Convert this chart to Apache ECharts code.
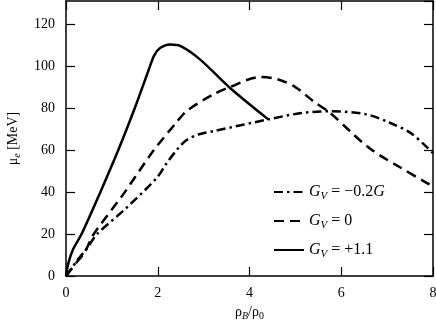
<!DOCTYPE html>
<html>
<head>
<meta charset="utf-8">
<script src="https://cdn.jsdelivr.net/npm/echarts@6/dist/echarts.min.js"></script>
<style>
  html, body { margin: 0; padding: 0; background: #fff; }
  #chart { width: 436px; height: 328px; }
</style>
</head>
<body>
<div id="chart"></div>
<script>
// rho_B / rho_0 vs mu_e [MeV]
const gvPlus = [
  [0, 0], [0.05, 6], [0.15, 12.5], [0.34, 20], [0.73, 39], [1.14, 60], [1.5, 80],
  [1.8, 98], [1.92, 105], [2.05, 108.6], [2.27, 110.3], [2.5, 109.5],
  [2.92, 103.2], [3.57, 89.7], [4.41, 74.6]
]
const gvZero = [
  [0, 0], [0.25, 7], [0.4, 11], [0.6, 19.8], [1.25, 39], [1.9, 59.5], [2.4, 73],
  [2.63, 78.6], [3.21, 86.5], [3.57, 90], [4.23, 94.8], [4.6, 93.8], [5.0, 90],
  [5.39, 83.3], [5.75, 77.8], [6.19, 69], [6.45, 63.8], [6.7, 59.5], [6.95, 56],
  [7.28, 51.8], [7.86, 44.4], [8, 43]
]
const gvMinus = [
  [0, 0], [0.23, 7], [0.45, 13], [0.67, 19.8], [1.32, 32.5], [1.98, 46.8],
  [2.19, 53.6], [2.45, 61], [2.63, 64.8], [2.9, 67.5], [3.21, 69], [4.41, 74.6],
  [5.1, 77.5], [5.75, 78.5], [6.55, 77], [7.06, 73], [7.5, 68.3], [7.86, 61.5], [8, 58.5]
]
const seriesNames = ['minus', 'zero', 'plus']
const legendLabels = {
  minus: '{i|G}{s|V}{n| = \u22120.2}{i|G}',
  zero: '{i|G}{s|V}{n| = 0}',
  plus: '{i|G}{s|V}{n| = +1.1}'
}

const serif = '"Liberation Serif", "DejaVu Serif", serif'
const black = '#000'
const dashDot = [9, 4, 2.5, 4]
const dashed = [10, 6]

const chart = echarts.init(document.getElementById('chart'), null, { renderer: 'canvas' })

const mirrorAxis = {
  show: true,
  axisLine: { show: true, onZero: false, lineStyle: { color: black, width: 1.5 } },
  axisTick: { show: true, inside: true, length: 9, lineStyle: { color: black, width: 1.2 } },
  axisLabel: { show: false },
  splitLine: { show: false }
}

chart.setOption({
  animation: false,
  backgroundColor: '#fff',
  grid: {
    left: 66, right: 3, top: 1, bottom: 52,
    outerBoundsMode: 'none', containLabel: false
  },
  legend: {
    orient: 'vertical',
    left: 268,
    top: 179,
    itemWidth: 30,
    itemHeight: 14,
    itemGap: 11,
    itemStyle: { color: 'transparent', borderWidth: 0 },
    data: [
      { name: 'minus', lineStyle: { type: dashDot } },
      { name: 'zero', lineStyle: { type: dashed } },
      { name: 'plus', lineStyle: { type: 'solid' } }
    ],
    formatter: n => legendLabels[n],
    textStyle: {
      fontFamily: serif,
      color: black,
      rich: {
        i: { fontFamily: serif, fontStyle: 'italic', fontSize: 16, color: black },
        s: { fontFamily: serif, fontStyle: 'italic', fontSize: 11, color: black, padding: [9, 0, 0, 0] },
        n: { fontFamily: serif, fontSize: 16, color: black }
      }
    }
  },
  xAxis: [
    {
      type: 'value', min: 0, max: 8, interval: 2,
      name: '{g|\u03c1}{s|B}{g|/\u03c1}{t|0}',
      nameLocation: 'middle',
      nameGap: 26,
      nameTextStyle: {
        rich: {
          g: { fontFamily: serif, fontSize: 14, color: black },
          s: { fontFamily: serif, fontStyle: 'italic', fontSize: 10, color: black, padding: [8, 0, 0, 0] },
          t: { fontFamily: serif, fontSize: 10, color: black, padding: [8, 0, 0, 0] }
        }
      },
      axisLine: { onZero: false, lineStyle: { color: black, width: 1.5 } },
      axisTick: { inside: true, length: 9, lineStyle: { color: black, width: 1.2 } },
      axisLabel: { color: black, fontFamily: serif, fontSize: 14, margin: 10 },
      splitLine: { show: false }
    },
    Object.assign({ type: 'value', min: 0, max: 8, interval: 2, position: 'top' }, mirrorAxis)
  ],
  yAxis: [
    {
      type: 'value', min: 0, max: 131, interval: 20,
      name: '{g|\u03bc}{s|e}{g| [MeV]}',
      nameLocation: 'middle',
      nameGap: 44,
      nameTextStyle: {
        rich: {
          g: { fontFamily: serif, fontSize: 14, color: black },
          s: { fontFamily: serif, fontStyle: 'italic', fontSize: 10, color: black, padding: [8, 0, 0, 0] }
        }
      },
      axisLine: { show: true, onZero: false, lineStyle: { color: black, width: 1.5 } },
      axisTick: { show: true, inside: true, length: 9, lineStyle: { color: black, width: 1.2 } },
      axisLabel: { color: black, fontFamily: serif, fontSize: 14, margin: 11, showMaxLabel: false },
      splitLine: { show: false }
    },
    Object.assign({ type: 'value', min: 0, max: 131, interval: 20, position: 'right' }, mirrorAxis)
  ],
  series: [
    {
      name: 'minus', type: 'line', data: gvMinus, smooth: 0.3, symbol: 'none',
      lineStyle: { color: black, width: 2.5, type: dashDot },
      itemStyle: { color: black }
    },
    {
      name: 'zero', type: 'line', data: gvZero, smooth: 0.3, symbol: 'none',
      lineStyle: { color: black, width: 2.5, type: dashed },
      itemStyle: { color: black }
    },
    {
      name: 'plus', type: 'line', data: gvPlus, smooth: 0.3, symbol: 'none',
      lineStyle: { color: black, width: 2.5, type: 'solid' },
      itemStyle: { color: black }
    },
    // empty series so the mirrored top/right axes are drawn
    { name: 'frame', type: 'line', xAxisIndex: 1, yAxisIndex: 1, data: [], symbol: 'none' }
  ]
})
</script>
</body>
</html>
